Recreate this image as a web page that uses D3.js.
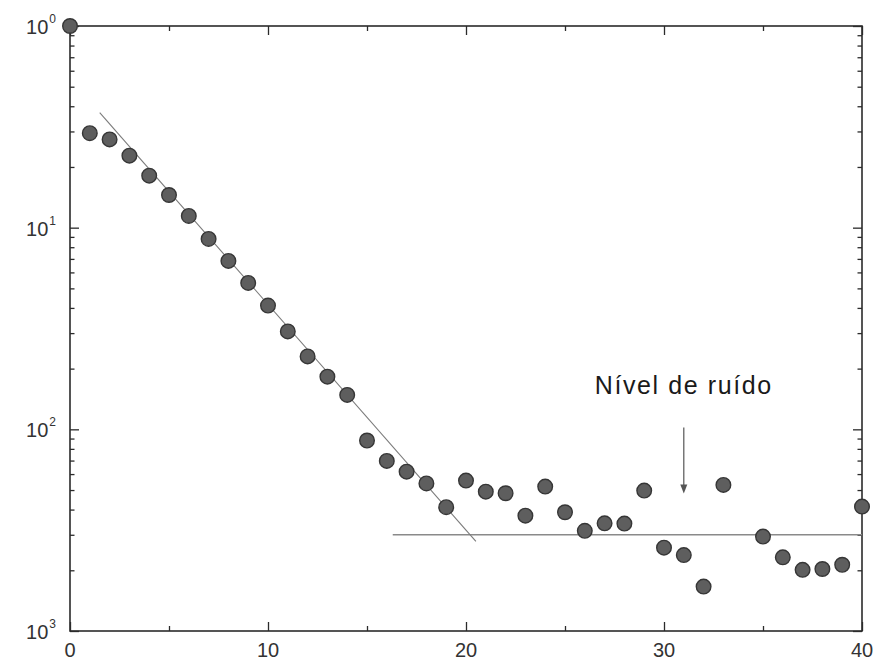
<!DOCTYPE html>
<html>
<head>
<meta charset="utf-8">
<script src="https://cdn.jsdelivr.net/npm/d3@7"></script>
<style>
  html, body { margin: 0; padding: 0; background: #fff; }
  svg { display: block; font-family: "Liberation Sans", Arial, Helvetica, sans-serif; }
</style>
</head>
<body>
<svg id="chart" width="874" height="661"></svg>
<script>
// Lag index and normalised magnitude for each measured point
const lags = [0, 1, 2, 3, 4, 5, 6, 7, 8, 9, 10,
  11, 12, 13, 14, 15, 16, 17, 18, 19, 20,
  21, 22, 23, 24, 25, 26, 27, 28, 29, 30,
  31, 32, 33, 35, 36, 37, 38, 39, 40];
const magnitudes = [1.0, 0.294, 0.274, 0.2275, 0.181, 0.1452, 0.1143, 0.0879, 0.0684, 0.0532, 0.0411,
  0.0306, 0.0230, 0.01824, 0.01482, 0.00880, 0.00697, 0.00617, 0.00539, 0.00411, 0.00557,
  0.00491, 0.00482, 0.00373, 0.00520, 0.00388, 0.00314, 0.00342, 0.00341, 0.00497, 0.00259,
  0.00238, 0.00166, 0.00530, 0.00294, 0.00232, 0.00201, 0.00203, 0.00213, 0.00414];

// Straight-line (exponential) fit over the decaying part
const fitLags = [1.5, 20.5];
const fitValues = [0.372, 0.00278];

// Noise floor
const noiseLags = [16.3, 40];
const noiseLevel = 0.003;

// Annotation
const noteText = "Nível de ruído";
const noteLag = 31;
const noteTextValue = 0.0150;
const arrowFrom = 0.0102;
const arrowTo = 0.0048;

// Axis ticks
const xLabelTicks = [0, 10, 20, 30, 40];
const xHalfTicks = [5, 15, 25, 35];
const yDecades = [1, 0.1, 0.01, 0.001];
const yBase = ["10", "10", "10", "10"];
const yExponent = ["0", "1", "2", "3"];

const svg = d3.select("#chart");
const plotLeft = 70, plotRight = 862, plotTop = 26, plotBottom = 631;

const x = d3.scaleLinear().domain([0, 40]).range([plotLeft, plotRight]);
const y = d3.scaleLog().domain([1, 0.001]).range([plotTop, plotBottom]);

// Minor log ticks: 2..9 within each decade
const yMinor = [];
[0.1, 0.01, 0.001].forEach(d => { for (let k = 2; k <= 9; k++) yMinor.push(d * k); });

const axisColor = "#2b2b2b";
const g = svg.append("g");

function styleAxis(sel) {
  sel.select(".domain").remove();
  sel.selectAll(".tick line").attr("stroke", axisColor).attr("stroke-width", 1.3);
  sel.selectAll(".tick text").remove();
}

// Frame
g.append("rect")
  .attr("x", plotLeft).attr("y", plotTop)
  .attr("width", plotRight - plotLeft).attr("height", plotBottom - plotTop)
  .attr("fill", "none").attr("stroke", axisColor).attr("stroke-width", 1.6);

// Bottom axis (ticks pointing inward)
g.append("g").attr("transform", `translate(0,${plotBottom})`)
  .call(d3.axisBottom(x).tickValues(xLabelTicks).tickSize(-9).tickFormat(""))
  .call(styleAxis);
g.append("g").attr("transform", `translate(0,${plotBottom})`)
  .call(d3.axisBottom(x).tickValues(xHalfTicks).tickSize(-5).tickFormat(""))
  .call(styleAxis);
// Top axis
g.append("g").attr("transform", `translate(0,${plotTop})`)
  .call(d3.axisTop(x).tickValues(xLabelTicks).tickSize(-9).tickFormat(""))
  .call(styleAxis);
g.append("g").attr("transform", `translate(0,${plotTop})`)
  .call(d3.axisTop(x).tickValues(xHalfTicks).tickSize(-5).tickFormat(""))
  .call(styleAxis);
// Left axis
g.append("g").attr("transform", `translate(${plotLeft},0)`)
  .call(d3.axisLeft(y).tickValues(yDecades).tickSize(-9).tickFormat(""))
  .call(styleAxis);
g.append("g").attr("transform", `translate(${plotLeft},0)`)
  .call(d3.axisLeft(y).tickValues(yMinor).tickSize(-4.5).tickFormat(""))
  .call(styleAxis);
// Right axis
g.append("g").attr("transform", `translate(${plotRight},0)`)
  .call(d3.axisRight(y).tickValues(yDecades).tickSize(-9).tickFormat(""))
  .call(styleAxis);
g.append("g").attr("transform", `translate(${plotRight},0)`)
  .call(d3.axisRight(y).tickValues(yMinor).tickSize(-4.5).tickFormat(""))
  .call(styleAxis);

// X tick labels
g.selectAll(".xlab").data(xLabelTicks).enter().append("text")
  .attr("class", "xlab")
  .attr("x", d => x(d)).attr("y", plotBottom + 26)
  .attr("text-anchor", "middle")
  .attr("font-size", 20).attr("fill", "#333")
  .text(d => d);

// Y tick labels with superscript exponents
const ylab = g.selectAll(".ylab").data(yDecades).enter().append("text")
  .attr("class", "ylab")
  .attr("x", 56).attr("y", d => y(d) + 8)
  .attr("text-anchor", "end")
  .attr("font-size", 20).attr("fill", "#333");
ylab.append("tspan").text((d, i) => yBase[i]);
ylab.append("tspan").attr("dx", 1).attr("dy", -11).attr("font-size", 12).text((d, i) => yExponent[i]);

// Noise floor line
g.append("line")
  .attr("x1", x(noiseLags[0])).attr("x2", x(noiseLags[1]))
  .attr("y1", y(noiseLevel)).attr("y2", y(noiseLevel))
  .attr("stroke", "#8a8a8a").attr("stroke-width", 1.4);

// Fitted line
g.append("line")
  .attr("x1", x(fitLags[0])).attr("y1", y(fitValues[0]))
  .attr("x2", x(fitLags[1])).attr("y2", y(fitValues[1]))
  .attr("stroke", "#7a7a7a").attr("stroke-width", 1.1);

// Data points
g.selectAll(".pt").data(lags).enter().append("circle")
  .attr("class", "pt")
  .attr("cx", d => x(d))
  .attr("cy", (d, i) => y(magnitudes[i]))
  .attr("r", 7.3)
  .attr("fill", "#5e5e5e")
  .attr("stroke", "#363636")
  .attr("stroke-width", 1.4);

// Annotation: label and arrow
g.append("text")
  .attr("x", x(noteLag)).attr("y", y(noteTextValue))
  .attr("text-anchor", "middle")
  .attr("font-size", 25).attr("letter-spacing", 1.6)
  .attr("fill", "#1a1a1a")
  .text(noteText);

const ax = x(noteLag), ay1 = y(arrowFrom), ay2 = y(arrowTo);
g.append("line")
  .attr("x1", ax).attr("x2", ax).attr("y1", ay1).attr("y2", ay2 - 6)
  .attr("stroke", "#555").attr("stroke-width", 1.2);
g.append("path")
  .attr("d", `M${ax - 3.5},${ay2 - 9} L${ax},${ay2} L${ax + 3.5},${ay2 - 9} Z`)
  .attr("fill", "#555");
</script>
</body>
</html>
